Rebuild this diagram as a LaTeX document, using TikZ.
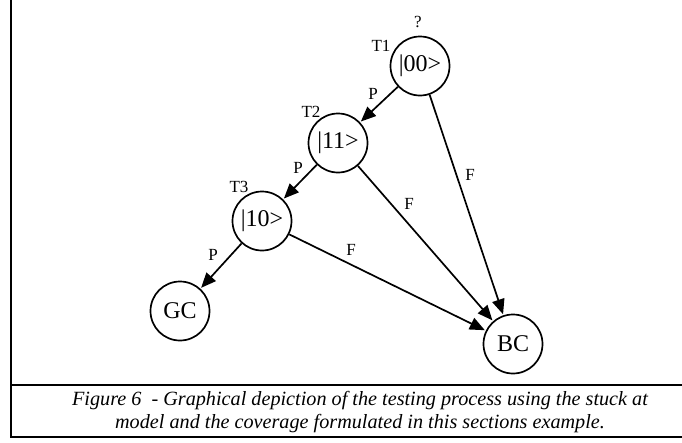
\documentclass[tikz,border=0pt]{standalone}
\usepackage{fontspec}
\setmainfont{Liberation Serif}
\usetikzlibrary{arrows.meta}
\begin{document}
\begin{tikzpicture}[x=1pt,y=-1pt,
 state/.style={circle,draw,line width=1.7pt,minimum size=59pt,inner sep=0pt,font=\fontsize{24}{24}\selectfont},
 edge/.style={-{Triangle[length=15pt,width=12.5pt]},line width=1.7pt,shorten >=1pt},
 lbl/.style={font=\fontsize{17}{17}\selectfont,inner sep=0pt},
 captxt/.style={font=\fontsize{20.2}{20.2}\selectfont\itshape,inner sep=0pt},
 framestyle/.style={line width=2.5pt}]
\useasboundingbox (0,0) rectangle (682,442);
\draw[framestyle] (11,0) -- (11,437) -- (692,437);
\draw[framestyle] (11,385) -- (692,385);
\node[state] (s00) at (420,66) {|00>};
\node[state] (s11) at (338,143) {|11>};
\node[state] (s10) at (262,221) {|10>};
\node[state] (gc) at (180,311) {GC};
\node[state] (bc) at (513,344) {BC};
\node[lbl] (q) at (418,22) {?};
\node[lbl] (t1) at (381,46) {T1};
\node[lbl] (t2) at (311,112) {T2};
\node[lbl] (t3) at (239,187) {T3};
\draw[edge] (s00) -- (s11);
\draw[edge] (s11) -- (s10);
\draw[edge] (s10) -- (gc);
\draw[edge] (s00) -- (bc);
\draw[edge] (s11) -- (bc);
\draw[edge] (s10) -- (bc);
\node[lbl] (p1) at (373,94) {P};
\node[lbl] (p2) at (298,168) {P};
\node[lbl] (p3) at (213,255) {P};
\node[lbl] (f1) at (470,175) {F};
\node[lbl] (f2) at (409,204) {F};
\node[lbl] (f3) at (351,250) {F};
\node[captxt] (c1) at (360,401) {Figure 6\ \ - Graphical depiction of the testing process using the stuck at};
\node[captxt] (c2) at (360,424) {model and the coverage formulated in this sections example.};
\end{tikzpicture}
\end{document}
